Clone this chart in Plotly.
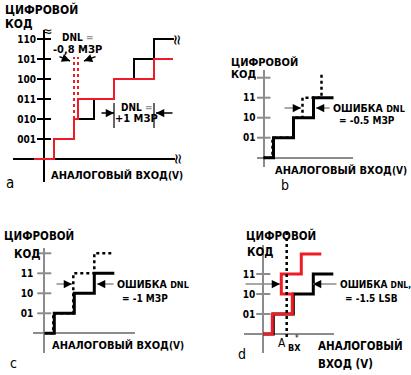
import plotly.graph_objects as go

W, H = 411, 375
SCALE = 20.0  # pixels per LSB in every panel

# ---------------- data ----------------
# panel a
a_levels = [1, 2, 3, 4, 5, 6]
a_ticktext = ["001", "010", "011", "100", "101", "110"]
a_black_x = [-0.5, 0.5, 1.5, 2.5, 3.5, 4.5, 5.5, 6.5]
a_black_y = [0, 1, 2, 3, 4, 5, 6, 6]
a_red_x = [-0.5, 0.5, 1.5, 1.7, 3.5, 5.5, 6.45]
a_red_y = [0, 1, 2, 3, 4, 5, 5]
a_dnl_edges = [1.5, 1.7]
a_dnl_span = [2, 5.1]
a_width_marks = [3.5, 5.5]
a_width_span = [1.55, 2.8]

# panel b
b_levels = [1, 2, 3, 4]
b_ticktext = ["01", "10", "11", ""]
b_solid_x = [0, 0.5, 1.5, 2.5, 3.5]
b_solid_y = [0, 1, 2, 3, 3]
b_dot_x = [0, 0.45, 1.5, 1.95, 2.9]
b_dot_y = [0, 1, 2, 3, 4.2]

# panel c
c_levels = [1, 2, 3, 4]
c_ticktext = ["01", "10", "11", ""]
c_solid_x = [0.05, 0.5, 1.5, 2.5, 3.5]
c_solid_y = [0, 1, 2, 3, 3]
c_dot_x = [0, 0.45, 1.45, 2.5, 3.5]
c_dot_y = [0, 1, 3, 4, 4]

# panel d
d_levels = [1, 2, 3]
d_ticktext = ["01", "10", "11"]
d_black_x = [0, 0.5, 1.5, 2.5, 3.5]
d_black_y = [0, 1, 2, 3, 3]
d_red_x = [0, 0.45, 1.45, 0.9, 1.9, 2.9]
d_red_y = [0, 1, 2, 3, 4, 4]
d_ain = 1.17

# ---------------- styling / geometry ----------------
FONT = "Liberation Sans Narrow, DejaVu Sans Condensed, Roboto Condensed, Arial Narrow, Liberation Sans, sans-serif"
RED = "#ee1c24"
GRAY = "#8c8c8c"

geom = {
    1: dict(ox=44, oy=159, x0=13, x1=175, y0=30, y1=182, axc="black", axw=1.5,
            levels=a_levels, labels=a_ticktext, standoff=2),
    2: dict(ox=263.5, oy=157.7, x0=257, x1=353, y0=70, y1=167, axc=GRAY, axw=2,
            levels=b_levels, labels=b_ticktext, standoff=2),
    3: dict(ox=44.3, oy=333.3, x0=33, x1=135, y0=248, y1=353, axc=GRAY, axw=2,
            levels=c_levels, labels=c_ticktext, standoff=5),
    4: dict(ox=263.3, oy=334, x0=244, x1=334, y0=245, y1=353, axc=GRAY, axw=2,
            levels=d_levels, labels=d_ticktext, standoff=2),
}

fig = go.Figure()
layout = dict(width=W, height=H, margin=dict(l=0, r=0, t=0, b=0, autoexpand=False),
              paper_bgcolor="white", plot_bgcolor="rgba(0,0,0,0)",
              showlegend=False, font=dict(family=FONT, color="black"))

for k, g in geom.items():
    sx = "" if k == 1 else str(k)
    layout["xaxis" + sx] = dict(
        domain=[g["x0"] / W, g["x1"] / W],
        range=[(g["x0"] - g["ox"]) / SCALE, (g["x1"] - g["ox"]) / SCALE],
        showgrid=False, showticklabels=False, ticks="", showline=False,
        zeroline=True, zerolinecolor=g["axc"], zerolinewidth=g["axw"],
        anchor="y" + sx, fixedrange=True, automargin=False)
    layout["yaxis" + sx] = dict(
        domain=[1 - g["y1"] / H, 1 - g["y0"] / H],
        range=[(g["oy"] - g["y1"]) / SCALE, (g["oy"] - g["y0"]) / SCALE],
        showgrid=False, showline=False,
        tickmode="array", tickvals=g["levels"],
        ticktext=["<b>%s</b>" % t for t in g["labels"]],
        ticks="outside", ticklen=4, tickcolor="rgba(0,0,0,0)",
        ticklabelstandoff=g["standoff"],
        tickfont=dict(family=FONT, size=10, color="black"),
        zeroline=True, zerolinecolor=g["axc"], zerolinewidth=g["axw"],
        anchor="free", position=g["ox"] / W, side="left", fixedrange=True,
        automargin=False)
fig.update_layout(**layout)


def ax(k):
    s = "" if k == 1 else str(k)
    return dict(xaxis="x" + s, yaxis="y" + s)


def tickmarks(k, levels, color):
    fig.add_trace(go.Scatter(x=[0] * len(levels), y=levels, mode="markers",
                             marker=dict(symbol="line-ew", size=10,
                                         line=dict(color=color, width=2)),
                             hoverinfo="skip", **ax(k)))


def stair(k, xs, ys, color, width, dash="solid"):
    fig.add_trace(go.Scatter(x=xs, y=ys, mode="lines", line_shape="hv",
                             line=dict(color=color, width=width, dash=dash),
                             hoverinfo="skip", **ax(k)))


def txt(s, x, y, size=11, anchor="left", color="black", bold=True, angle=0):
    fig.add_annotation(text=("<b>%s</b>" % s) if bold else s,
                       x=x / W, y=1 - y / H, xref="paper", yref="paper",
                       xanchor=anchor, yanchor="middle", showarrow=False,
                       textangle=angle,
                       font=dict(family=FONT, size=size, color=color))


def arrow(xt, yt, xh, yh, line_color="black", head_color="black"):
    fig.add_annotation(text="", x=xh / W, y=1 - yh / H, xref="paper", yref="paper",
                       ax=xt - xh, ay=yt - yh, showarrow=True, arrowhead=0,
                       arrowwidth=1.5, arrowcolor=line_color, standoff=0)
    dx, dy = xt - xh, yt - yh
    n = max((dx ** 2 + dy ** 2) ** 0.5, 1e-6)
    fig.add_annotation(text="", x=xh / W, y=1 - yh / H, xref="paper", yref="paper",
                       ax=dx / n * 7, ay=dy / n * 7, showarrow=True, arrowhead=2,
                       arrowsize=1.1, arrowwidth=1.5, arrowcolor=head_color, standoff=0)


# ---------------- panel a ----------------
tickmarks(1, a_levels, "black")
stair(1, a_black_x, a_black_y, "black", 2)
stair(1, a_red_x, a_red_y, RED, 2)
for e in a_dnl_edges:
    fig.add_trace(go.Scatter(x=[e, e], y=a_dnl_span, mode="lines",
                             line=dict(color=RED, width=2, dash="dot"),
                             hoverinfo="skip", **ax(1)))
for e in a_width_marks:
    fig.add_trace(go.Scatter(x=[e, e], y=a_width_span, mode="lines",
                             line=dict(color="black", width=1.2),
                             hoverinfo="skip", **ax(1)))
txt("ЦИФРОВОЙ", 3, 9, 12)
txt("КОД", 3, 24, 12)
txt("≈", 47, 31, 14, anchor="center", bold=False)
txt("≈", 178, 40, 16, anchor="center", bold=False, angle=90)
txt("≈", 178, 159, 16, anchor="center", bold=False, angle=90)
txt("DNL <span style='color:#999'>=</span>", 77, 38, 10, anchor="center")
txt("-0,8 МЗР", 77, 49, 11, anchor="center")
arrow(58, 56, 70, 61)
arrow(97, 56, 84, 61)
txt("DNL <span style='color:#999'>=</span>", 136, 107, 10, anchor="center")
txt("+1 МЗР", 136, 118, 11, anchor="center")
arrow(100, 113, 114, 113)
arrow(174, 113, 156, 113)
txt("АНАЛОГОВЫЙ ВХОД<span style='font-size:10px'>(V)</span>", 49, 175, 11)
txt("a", 10, 183, 15, anchor="center", bold=False)

# ---------------- panel b ----------------
tickmarks(2, b_levels, GRAY)
stair(2, b_solid_x, b_solid_y, "black", 3)
stair(2, b_dot_x, b_dot_y, "black", 2.5, "dot")
txt("ЦИФРОВОЙ", 229, 62, 11)
txt("КОД", 229, 75, 11)
arrow(283, 108, 301, 108, GRAY)
arrow(331, 108, 316, 108, GRAY)
txt("ОШИБКА <span style='font-size:9px'>DNL</span>", 331, 108, 10.5)
txt("= -0.5 МЗР", 337, 120, 10)
txt("АНАЛОГОВЫЙ ВХОД<span style='font-size:10px'>(V)</span>", 273, 171, 11)
txt("b", 285, 185, 14, anchor="center", bold=False)

# ---------------- panel c ----------------
tickmarks(3, c_levels, GRAY)
stair(3, c_solid_x, c_solid_y, "black", 3)
stair(3, c_dot_x, c_dot_y, "black", 2.5, "dot")
txt("ЦИФРОВОЙ", 2, 235, 11.5)
txt("КОД", 12, 254, 11.5)
arrow(55, 284, 72, 284, GRAY)
arrow(115, 284, 97, 284, GRAY)
txt("ОШИБКА <span style='font-size:9px'>DNL</span>", 115, 284, 10.5)
txt("= -1 МЗР", 120, 298, 10)
txt("АНАЛОГОВЫЙ ВХОД<span style='font-size:10px'>(V)</span>", 50, 345, 11)
txt("c", 13, 363, 14, anchor="center", bold=False)

# ---------------- panel d ----------------
tickmarks(4, d_levels, GRAY)
stair(4, d_black_x, d_black_y, "black", 3)
stair(4, d_red_x, d_red_y, RED, 3)
fig.add_shape(type="line", xref="x4", yref="paper", x0=d_ain, x1=d_ain,
              y0=1 - 337 / H, y1=1 - 230 / H,
              line=dict(color="black", width=2.5, dash="dot"))
txt("ЦИФРОВОЙ", 244, 235, 11.5)
txt("КОД", 245, 252, 11.5)
arrow(244, 284, 280, 284, GRAY)
arrow(338, 284, 313, 284, GRAY)
txt("ОШИБКА <span style='font-size:8.5px'>DNL,</span>", 338, 284, 10)
txt("= -1.5 LSB", 343, 298, 10)
txt("A", 276, 343, 12, bold=False)
txt("ВХ", 286, 348, 9)
txt("*", 297, 338, 8, anchor="center", bold=False)
txt("АНАЛОГОВЫЙ", 316, 345, 11.5)
txt("ВХОД (V)", 316, 364, 11.5)
txt("d", 242, 354, 14, anchor="center", bold=False)

fig.write_html("out.html", config={"displayModeBar": False},
               post_script="document.body.style.margin='0';document.body.style.padding='0';")
